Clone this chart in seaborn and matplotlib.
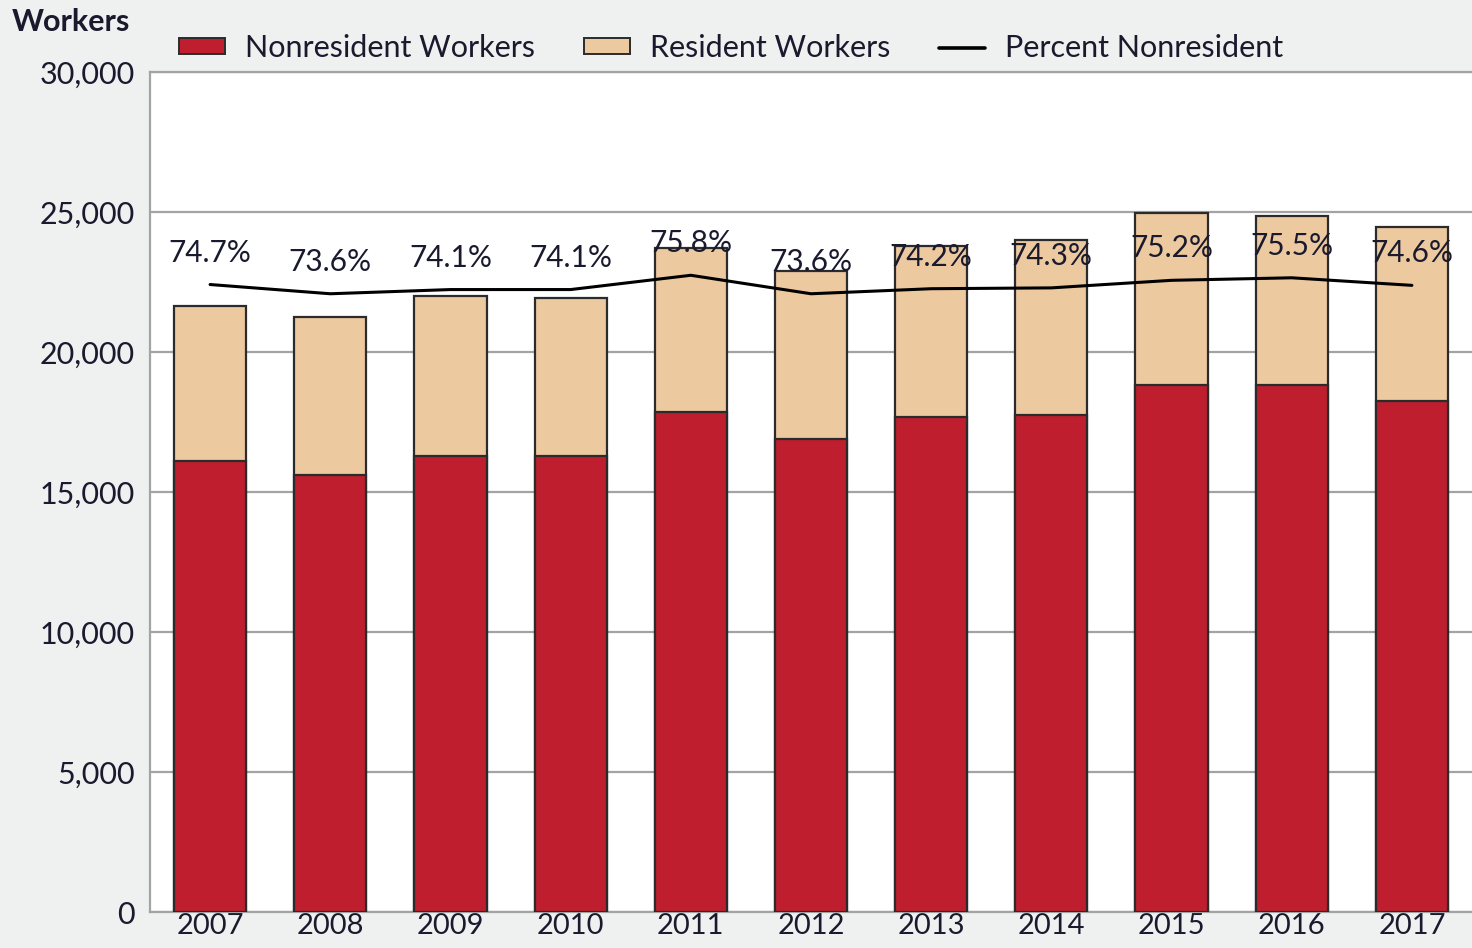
import numpy as np
import pandas as pd
import matplotlib
matplotlib.use("Agg")
import matplotlib.pyplot as plt
import seaborn as sns
from matplotlib.patches import Patch
from matplotlib.lines import Line2D

# ---- data ----
years = ["2007", "2008", "2009", "2010", "2011", "2012", "2013", "2014", "2015", "2016", "2017"]
nonresident = [16110, 15610, 16290, 16290, 17860, 16890, 17680, 17750, 18820, 18820, 18250]
resident = [5530, 5640, 5710, 5640, 5850, 6000, 6110, 6250, 6140, 6040, 6210]
pct_nonresident = [74.7, 73.6, 74.1, 74.1, 75.8, 73.6, 74.2, 74.3, 75.2, 75.5, 74.6]
yticks = [0, 5000, 10000, 15000, 20000, 25000, 30000]

# ---- style ----
sns.set_theme(style="white")
plt.rcParams["font.family"] = ["Lato", "DejaVu Sans"]

RED = "#be1e2d"
TAN = "#edc9a0"
EDGE = "#2b2b2b"
BG = "#eff1f0"
GRID = "#a3a3a3"
TXT = "#1a1a2e"

df = pd.DataFrame({
    "year": years,
    "nonresident": nonresident,
    "resident": resident,
    "pct": pct_nonresident,
})
df["total"] = df["nonresident"] + df["resident"]

fig = plt.figure(figsize=(14.72, 9.48), dpi=100, facecolor=BG)
ax = fig.add_axes([150 / 1472, 1 - 912 / 948, 1 - 150 / 1472, (912 - 72) / 948])
ax.set_facecolor("white")

sns.barplot(data=df, x="year", y="total", color=TAN, width=0.6, ax=ax,
            edgecolor=EDGE, linewidth=1.6, saturation=1, zorder=3)
sns.barplot(data=df, x="year", y="nonresident", color=RED, width=0.6, ax=ax,
            edgecolor=EDGE, linewidth=1.6, saturation=1, zorder=3)

ax.set_ylim(0, 30000)
ax.set_xlim(-0.5, 10.5)
ax.set_yticks(yticks)
ax.set_yticklabels([f"{v:,}" for v in yticks])
ax.yaxis.grid(True, color=GRID, linewidth=1.6, zorder=0)
ax.set_axisbelow(True)
ax.set_xlabel("")
ax.set_ylabel("")
ax.tick_params(axis="y", labelsize=22, pad=11, length=0, colors=TXT)
ax.tick_params(axis="x", labelsize=21, pad=1, length=0, colors=TXT)
for s in ["left", "top", "bottom"]:
    ax.spines[s].set_color(GRID)
    ax.spines[s].set_linewidth(1.6)
ax.spines["right"].set_visible(False)

# percent line on hidden secondary axis (0-100%)
ax2 = ax.twinx()
sns.lineplot(data=df, x="year", y="pct", ax=ax2, color="black", linewidth=2.2,
             sort=False, zorder=5)
ax2.set_ylim(0, 100)
ax2.set_xlim(-0.5, 10.5)
ax2.axis("off")
for i, p in enumerate(pct_nonresident):
    ax2.annotate(f"{p}%", (i, p), xytext=(0, 23), textcoords="offset points",
                 ha="center", va="center", fontsize=21.5, color=TXT, zorder=6)

fig.text(12 / 1472, 1 - 22 / 948, "Workers", fontsize=22, fontweight="bold",
         ha="left", va="center", color=TXT)

handles = [
    Patch(facecolor=RED, edgecolor=EDGE, linewidth=1.4),
    Patch(facecolor=TAN, edgecolor=EDGE, linewidth=1.4),
    Line2D([0], [0], color="black", linewidth=2.6),
]
labels = ["Nonresident Workers", "Resident Workers", "Percent Nonresident"]
leg = fig.legend(handles, labels, loc="center", ncol=3,
                 bbox_to_anchor=((170 + 1292) / 2 / 1472, 1 - 48 / 948),
                 frameon=False, fontsize=22, handlelength=1.5, handleheight=0.4,
                 handletextpad=0.65, columnspacing=1.6, labelcolor=TXT)

fig.savefig("out.png", dpi=100, facecolor=BG)
